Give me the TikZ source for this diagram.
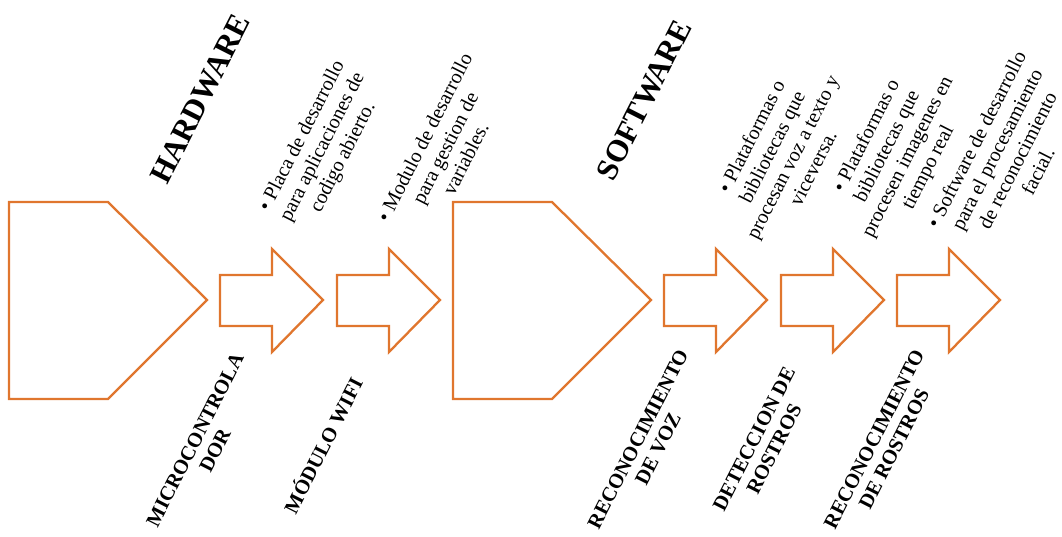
\documentclass[tikz,border=0pt]{standalone}
\usepackage{fontspec}
\setmainfont{Liberation Serif}
\definecolor{orng}{RGB}{224,118,46}
\begin{document}
\begin{tikzpicture}[x=1pt,y=-1pt,
  shp/.style={draw=orng,line width=2.3pt,line join=miter,fill=white},
  head/.style={font=\bfseries\fontsize{31}{34}\selectfont,rotate=63,inner sep=0pt},
  desc/.style={font=\fontsize{20.2}{23}\selectfont,rotate=63,align=center,inner sep=0pt},
  lbl/.style={font=\bfseries\fontsize{20.5}{22.5}\selectfont,rotate=63,align=center,inner sep=0pt}]
\useasboundingbox (0,0) rectangle (1062,537);
% pentagons
\draw[shp] (9,202) -- (108,202) -- (207,300) -- (108,399) -- (9,399) -- cycle;
\draw[shp] (453,202) -- (552,202) -- (651,300) -- (552,399) -- (453,399) -- cycle;
% arrows
\foreach \x in {220,337,664,781,897}{
  \draw[shp] (\x,275) -- (\x+52,275) -- (\x+52,249) -- (\x+103,300) -- (\x+52,352) -- (\x+52,326) -- (\x,326) -- cycle;
}
% headings
\node[head] (hw) at (200,99) {HARDWARE};
\node[head] (sw) at (644,100) {SOFTWARE};
% descriptions
\node[desc] (d1) at (323,147) {\textbullet\ Placa de desarrollo\\para aplicaciones de\\codigo abierto.};
\node[desc] (d2) at (445,148) {\textbullet\ Modulo de desarrollo\\para gestion de\\variables.};
\node[desc] (d3) at (782,152) {\textbullet\ Plataformas o\\bibliotecas que\\procesan voz a texto y\\viceversa.};
\node[desc] (d4) at (898,152) {\textbullet\ Plataformas o\\bibliotecas que\\procesen imagenes en\\tiempo real};
\node[desc] (d5) at (1007,155) {\textbullet\ Software de desarrollo\\para el procesamiento\\de reconocimiento\\facial.};
% labels
\node[lbl] (l1) at (205,445) {MICROCONTROLA\\DOR};
\node[lbl] (l2) at (322,445) {MÓDULO WIFI};
\node[lbl] (l3) at (648,444) {RECONOCIMIENTO\\DE VOZ};
\node[lbl] (l4) at (764,444) {DETECCION DE\\ROSTROS};
\node[lbl] (l5) at (884,444) {RECONOCIMIENTO\\DE ROSTROS};
\end{tikzpicture}
\end{document}
